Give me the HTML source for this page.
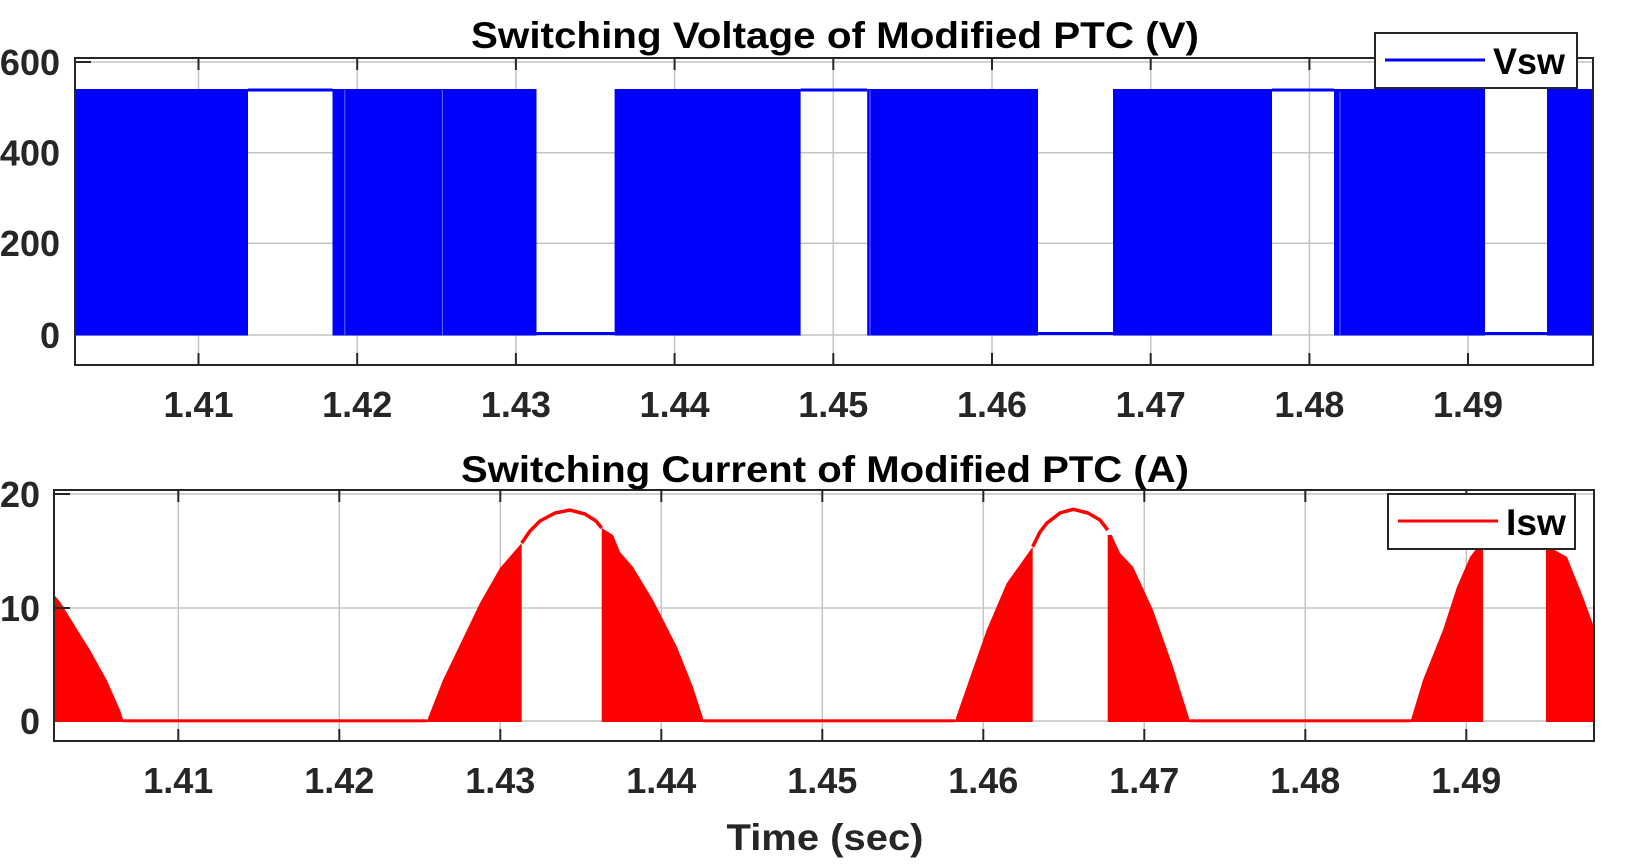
<!DOCTYPE html>
<html><head><meta charset="utf-8"><style>
html,body{margin:0;padding:0;background:#fff;}
svg{display:block;}
text{font-family:"Liberation Sans",Arial,sans-serif;font-weight:bold;}
</style></head><body>
<svg width="1632" height="865" viewBox="0 0 1632 865" xmlns="http://www.w3.org/2000/svg">
<rect width="1632" height="865" fill="#fff"/>
<!-- ===== TOP PLOT ===== -->
<g stroke="#c4c4c4" stroke-width="1.5">
 <line x1="75" y1="62" x2="1593" y2="62"/>
 <line x1="75" y1="152.7" x2="1593" y2="152.7"/>
 <line x1="75" y1="243.3" x2="1593" y2="243.3"/>
 <line x1="75" y1="335" x2="1593" y2="335"/>
 <line x1="198.5" y1="58" x2="198.5" y2="365"/>
 <line x1="357.2" y1="58" x2="357.2" y2="365"/>
 <line x1="515.9" y1="58" x2="515.9" y2="365"/>
 <line x1="674.6" y1="58" x2="674.6" y2="365"/>
 <line x1="833.3" y1="58" x2="833.3" y2="365"/>
 <line x1="992" y1="58" x2="992" y2="365"/>
 <line x1="1150.7" y1="58" x2="1150.7" y2="365"/>
 <line x1="1309.4" y1="58" x2="1309.4" y2="365"/>
 <line x1="1468" y1="58" x2="1468" y2="365"/>
</g>
<g fill="#0000ff">
 <rect x="75" y="89" width="173" height="246.5"/>
 <rect x="248" y="88.5" width="84.5" height="3"/>
 <rect x="332.5" y="89" width="204" height="246.5"/>
 <rect x="536.5" y="332" width="78.1" height="3"/>
 <rect x="614.6" y="89" width="186" height="246.5"/>
 <rect x="800.6" y="88.5" width="66.6" height="3"/>
 <rect x="867.2" y="89" width="170.8" height="246.5"/>
 <rect x="1038" y="332" width="75" height="3"/>
 <rect x="1113" y="89" width="159" height="246.5"/>
 <rect x="1272" y="88.5" width="62" height="3"/>
 <rect x="1334" y="89" width="151" height="246.5"/>
 <rect x="1485" y="332" width="62" height="3"/>
 <rect x="1547" y="89" width="46" height="246.5"/>
</g>
<g stroke="#6a6aff" stroke-width="1">
 <line x1="344.8" y1="90" x2="344.8" y2="335"/>
 <line x1="442.4" y1="90" x2="442.4" y2="335"/>
 <line x1="870" y1="90" x2="870" y2="335"/>
 <line x1="1340" y1="92" x2="1340" y2="335"/>
</g>
<rect x="75" y="58" width="1518" height="307" fill="none" stroke="#262626" stroke-width="2"/>
<g stroke="#262626" stroke-width="2">
 <line x1="198.5" y1="58" x2="198.5" y2="70"/><line x1="198.5" y1="365" x2="198.5" y2="353"/>
 <line x1="357.2" y1="58" x2="357.2" y2="70"/><line x1="357.2" y1="365" x2="357.2" y2="353"/>
 <line x1="515.9" y1="58" x2="515.9" y2="70"/><line x1="515.9" y1="365" x2="515.9" y2="353"/>
 <line x1="674.6" y1="58" x2="674.6" y2="70"/><line x1="674.6" y1="365" x2="674.6" y2="353"/>
 <line x1="833.3" y1="58" x2="833.3" y2="70"/><line x1="833.3" y1="365" x2="833.3" y2="353"/>
 <line x1="992" y1="58" x2="992" y2="70"/><line x1="992" y1="365" x2="992" y2="353"/>
 <line x1="1150.7" y1="58" x2="1150.7" y2="70"/><line x1="1150.7" y1="365" x2="1150.7" y2="353"/>
 <line x1="1309.4" y1="58" x2="1309.4" y2="70"/><line x1="1309.4" y1="365" x2="1309.4" y2="353"/>
 <line x1="1468" y1="58" x2="1468" y2="70"/><line x1="1468" y1="365" x2="1468" y2="353"/>
 <line x1="75" y1="62" x2="91" y2="62"/>
</g>
<g fill="#262626" font-size="36" text-anchor="end">
 <text x="60" y="75">600</text>
 <text x="60" y="165.5">400</text>
 <text x="60" y="256">200</text>
 <text x="60" y="348">0</text>
</g>
<g fill="#262626" font-size="36" text-anchor="middle">
 <text x="198.5" y="417">1.41</text>
 <text x="357.2" y="417">1.42</text>
 <text x="515.9" y="417">1.43</text>
 <text x="674.6" y="417">1.44</text>
 <text x="833.3" y="417">1.45</text>
 <text x="992" y="417">1.46</text>
 <text x="1150.7" y="417">1.47</text>
 <text x="1309.4" y="417">1.48</text>
 <text x="1468" y="417">1.49</text>
</g>
<text x="835" y="48" font-size="37" text-anchor="middle" fill="#000" textLength="728" lengthAdjust="spacingAndGlyphs">Switching Voltage of Modified PTC (V)</text>
<rect x="1375" y="33" width="202" height="55" fill="#fff" stroke="#262626" stroke-width="2"/>
<line x1="1385" y1="60" x2="1485" y2="60" stroke="#0000ff" stroke-width="3"/>
<text x="1493" y="74" font-size="37" fill="#000" textLength="72" lengthAdjust="spacingAndGlyphs">Vsw</text>

<!-- ===== BOTTOM PLOT ===== -->
<g stroke="#c4c4c4" stroke-width="1.5">
 <line x1="54" y1="494" x2="1594" y2="494"/>
 <line x1="54" y1="608" x2="1594" y2="608"/>
 <line x1="54" y1="721" x2="1594" y2="721"/>
 <line x1="178.3" y1="490" x2="178.3" y2="741"/>
 <line x1="339.3" y1="490" x2="339.3" y2="741"/>
 <line x1="500.3" y1="490" x2="500.3" y2="741"/>
 <line x1="661.3" y1="490" x2="661.3" y2="741"/>
 <line x1="822.3" y1="490" x2="822.3" y2="741"/>
 <line x1="983.3" y1="490" x2="983.3" y2="741"/>
 <line x1="1144.3" y1="490" x2="1144.3" y2="741"/>
 <line x1="1305.3" y1="490" x2="1305.3" y2="741"/>
 <line x1="1466.3" y1="490" x2="1466.3" y2="741"/>
</g>
<g fill="#ff0000">
 <path d="M54.3,722 L54.3,595 L60,601.7 L73.3,623.3 L90,650 L106.7,680 L120,710 L123.3,720 L123.3,722 Z"/>
 <rect x="123" y="719.3" width="304" height="3"/>
 <path d="M427,722 L427,720.7 L443,680 L480,603 L500,568 L521.7,543 L521.7,722 Z"/>
 <path d="M601.7,722 L601.7,528 L613,535 L620,552 L633,567 L653,600 L677,647 L693,687 L703,718 L703,722 Z"/>
 <rect x="703" y="719.3" width="252" height="3"/>
 <path d="M955,722 L955,720.7 L963.3,696.7 L986.7,630 L1006.7,583.3 L1032.7,546.7 L1032.7,722 Z"/>
 <path d="M1107.7,722 L1107.7,535 L1111.7,535 L1120,553 L1133,566.7 L1153,610 L1173,666.7 L1189,718 L1189,722 Z"/>
 <rect x="1189" y="719.3" width="222" height="3"/>
 <path d="M1410.7,722 L1410.7,720.7 L1423,680 L1443,630 L1457,587 L1470,557 L1483,540 L1483,722 Z"/>
 <path d="M1546,722 L1546,545 L1567,557 L1583,597 L1594,627 L1594,722 Z"/>
</g>
<g fill="none" stroke="#ff0000" stroke-width="3.5">
 <path d="M521.7,543 L530,531 L540,521 L555,513 L570,510 L585,514 L596,521 L601.7,528"/>
 <path d="M1032.7,546.7 L1040,532 L1046.7,523.3 L1060,513 L1073.3,509.3 L1088,513 L1100,520 L1107.7,530"/>
</g>
<rect x="54" y="490" width="1540" height="251" fill="none" stroke="#262626" stroke-width="2"/>
<g stroke="#262626" stroke-width="2">
 <line x1="178.3" y1="490" x2="178.3" y2="502"/><line x1="178.3" y1="741" x2="178.3" y2="729"/>
 <line x1="339.3" y1="490" x2="339.3" y2="502"/><line x1="339.3" y1="741" x2="339.3" y2="729"/>
 <line x1="500.3" y1="490" x2="500.3" y2="502"/><line x1="500.3" y1="741" x2="500.3" y2="729"/>
 <line x1="661.3" y1="490" x2="661.3" y2="502"/><line x1="661.3" y1="741" x2="661.3" y2="729"/>
 <line x1="822.3" y1="490" x2="822.3" y2="502"/><line x1="822.3" y1="741" x2="822.3" y2="729"/>
 <line x1="983.3" y1="490" x2="983.3" y2="502"/><line x1="983.3" y1="741" x2="983.3" y2="729"/>
 <line x1="1144.3" y1="490" x2="1144.3" y2="502"/><line x1="1144.3" y1="741" x2="1144.3" y2="729"/>
 <line x1="1305.3" y1="490" x2="1305.3" y2="502"/><line x1="1305.3" y1="741" x2="1305.3" y2="729"/>
 <line x1="1466.3" y1="490" x2="1466.3" y2="502"/><line x1="1466.3" y1="741" x2="1466.3" y2="729"/>
 <line x1="54" y1="494" x2="70" y2="494"/><line x1="54" y1="608" x2="70" y2="608"/>
</g>
<g fill="#262626" font-size="36" text-anchor="end">
 <text x="40" y="507">20</text>
 <text x="40" y="621">10</text>
 <text x="40" y="734">0</text>
</g>
<g fill="#262626" font-size="36" text-anchor="middle">
 <text x="178.3" y="793">1.41</text>
 <text x="339.3" y="793">1.42</text>
 <text x="500.3" y="793">1.43</text>
 <text x="661.3" y="793">1.44</text>
 <text x="822.3" y="793">1.45</text>
 <text x="983.3" y="793">1.46</text>
 <text x="1144.3" y="793">1.47</text>
 <text x="1305.3" y="793">1.48</text>
 <text x="1466.3" y="793">1.49</text>
</g>
<text x="825" y="482" font-size="37" text-anchor="middle" fill="#000" textLength="728" lengthAdjust="spacingAndGlyphs">Switching Current of Modified PTC (A)</text>
<text x="825" y="850" font-size="37" text-anchor="middle" fill="#262626" textLength="197" lengthAdjust="spacingAndGlyphs">Time (sec)</text>
<rect x="1388" y="494" width="187" height="55" fill="#fff" stroke="#262626" stroke-width="2"/>
<line x1="1398" y1="521" x2="1498" y2="521" stroke="#ff0000" stroke-width="3"/>
<text x="1506" y="535" font-size="37" fill="#000" textLength="60" lengthAdjust="spacingAndGlyphs">Isw</text>
</svg>
</body></html>
